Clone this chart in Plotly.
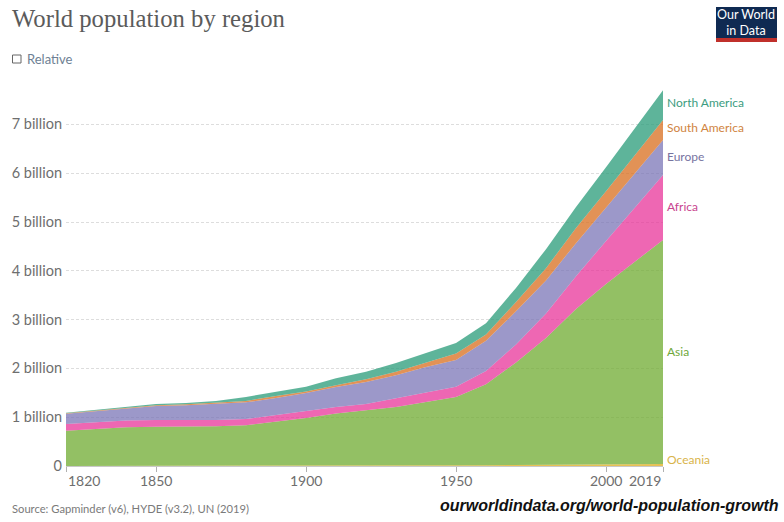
import plotly.graph_objects as go

years = [1820, 1830, 1840, 1850, 1860, 1870, 1880, 1890, 1900, 1910, 1920, 1930, 1940, 1950,
         1960, 1970, 1980, 1990, 2000, 2010, 2019]
oceania = [0.002, 0.002, 0.002, 0.002, 0.003, 0.003, 0.004, 0.005, 0.006, 0.007, 0.009, 0.010, 0.011, 0.013,
           0.016, 0.020, 0.023, 0.027, 0.031, 0.037, 0.042]
asia = [0.72, 0.76, 0.79, 0.80, 0.80, 0.81, 0.83, 0.90, 0.98, 1.07, 1.14, 1.20, 1.30, 1.40,
        1.66, 2.10, 2.60, 3.19, 3.70, 4.16, 4.59]
africa = [0.14, 0.14, 0.14, 0.14, 0.14, 0.13, 0.13, 0.14, 0.15, 0.13, 0.12, 0.18, 0.19, 0.21,
          0.27, 0.37, 0.50, 0.67, 0.88, 1.13, 1.33]
europe = [0.21, 0.225, 0.25, 0.29, 0.30, 0.33, 0.34, 0.35, 0.36, 0.41, 0.45, 0.47, 0.53, 0.55,
          0.62, 0.68, 0.68, 0.68, 0.69, 0.71, 0.72]
south_america = [0.008, 0.01, 0.012, 0.015, 0.02, 0.025, 0.03, 0.04, 0.03, 0.04, 0.06, 0.07, 0.08, 0.13,
                 0.13, 0.19, 0.25, 0.31, 0.33, 0.36, 0.41]
north_america = [0.012, 0.015, 0.018, 0.025, 0.03, 0.035, 0.08, 0.09, 0.10, 0.14, 0.15, 0.18, 0.21, 0.22,
                 0.23, 0.29, 0.39, 0.43, 0.49, 0.56, 0.61]

series = [
    ("Oceania", oceania, "rgba(226,178,40,0.8)", "#d9b44a", 459),
    ("Asia", asia, "rgba(111,171,48,0.75)", "#6fa83a", 351),
    ("Africa", africa, "rgba(232,45,150,0.72)", "#c9458f", 206),
    ("Europe", europe, "rgba(118,112,180,0.72)", "#77749f", 156),
    ("South America", south_america, "rgba(216,110,30,0.75)", "#d0843f", 127),
    ("North America", north_america, "rgba(40,155,120,0.75)", "#3c9c80", 102),
]

PLOT_L, PLOT_R, PLOT_T, PLOT_B = 66, 663, 80, 466
W, H = 784, 522
Y_MAX = (PLOT_B - PLOT_T) / 48.8


def px(x):
    return (x - PLOT_L) / (PLOT_R - PLOT_L)


def py(y):
    return (PLOT_B - y) / (PLOT_B - PLOT_T)


fig = go.Figure()
for name, vals, fill, _, _ in series:
    fig.add_trace(go.Scatter(x=years, y=vals, name=name, mode="lines", stackgroup="one",
                             fillcolor=fill, line=dict(width=0)))

notes = [
    dict(x=px(10), y=py(18), text="World population by region", xanchor="left",
         font=dict(family="Liberation Serif", size=24.7, color="#5b5b5b")),
    dict(x=px(25), y=py(59), text="Relative", xanchor="left",
         font=dict(family="Lato", size=13, color="#6e7f94")),
    dict(x=px(10), y=py(508), text="Source: Gapminder (v6), HYDE (v3.2), UN (2019)", xanchor="left",
         font=dict(family="Lato", size=11.2, color="#7a7a7a")),
    dict(x=px(781), y=py(506), text="<b><i>ourworldindata.org/world-population-growth</i></b>", xanchor="right",
         font=dict(family="Liberation Sans", size=16, color="#111111")),
    dict(x=px(746), y=py(23), text="Our World<br>in Data", xanchor="center",
         font=dict(family="Lato", size=12.5, color="white")),
]
for name, _, _, color, label_y in series:
    notes.append(dict(x=px(665), y=py(label_y), text=name, xanchor="left",
                      font=dict(family="Lato", size=12, color=color)))
for year, anchor in [(1820, "left"), (1850, "center"), (1900, "center"), (1950, "center"),
                     (2000, "center"), (2019, "right")]:
    notes.append(dict(x=year, xref="x", y=py(481), text=str(year), xanchor=anchor,
                      font=dict(family="Lato", size=14, color="#6e6e6e")))

shapes = [
    dict(type="rect", x0=px(12.5), x1=px(21), y0=py(55), y1=py(63), line=dict(color="#666", width=1),
         fillcolor="white"),
    dict(type="rect", x0=px(716), x1=px(777), y0=py(7), y1=py(38), line=dict(width=0), fillcolor="#0f2a52"),
    dict(type="rect", x0=px(716), x1=px(777), y0=py(38), y1=py(42), line=dict(width=0), fillcolor="#c0302b"),
]
for s in shapes:
    s.update(xref="paper", yref="paper")

fig.update_layout(
    width=W, height=H,
    margin=dict(l=PLOT_L, r=W - PLOT_R, t=PLOT_T, b=H - PLOT_B, autoexpand=False),
    paper_bgcolor="white", plot_bgcolor="white", showlegend=False,
    font=dict(family="Lato"),
    annotations=[dict(xref=n.get("xref", "paper"), yref="paper", yanchor="middle", showarrow=False, **{k: v for k, v in n.items() if k != "xref"}) for n in notes],
    shapes=shapes,
)
fig.update_xaxes(range=[1820, 2019], tickvals=[1820, 1850, 1900, 1950, 2000, 2019], showticklabels=False,
                 ticks="outside", ticklen=5, tickcolor="#b0b0b0", showgrid=False, zeroline=False,
                 showline=True, linecolor="#c8c8c8")
fig.update_yaxes(range=[0, Y_MAX], tickvals=[0, 1, 2, 3, 4, 5, 6, 7],
                 ticktext=["0", "1 billion", "2 billion", "3 billion", "4 billion", "5 billion", "6 billion", "7 billion"],
                 tickfont=dict(family="Lato", size=14.5, color="#6e6e6e"), ticks="", ticklabelstandoff=3, showgrid=True,
                 gridcolor="#dddddd", griddash="3px,2px", gridwidth=1, zeroline=False, showline=False)

fig.write_html("out.html", config=dict(displayModeBar=False), post_script="document.body.style.margin = '0';")
